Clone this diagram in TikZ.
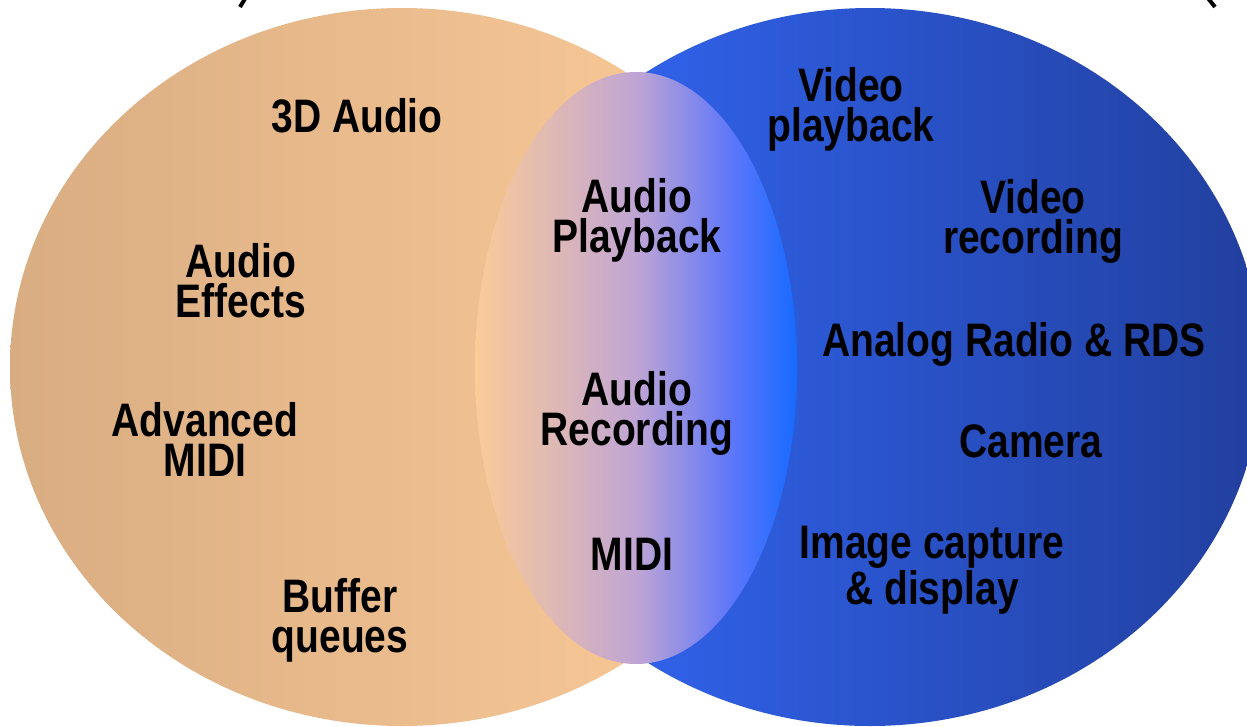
\documentclass[tikz,border=0pt]{standalone}
\usepackage{fontspec}
\setmainfont{Liberation Sans}[FakeStretch=0.83]

% fill colours
\definecolor{peachL}{RGB}{217,173,130}
\definecolor{peachR}{RGB}{253,204,153}
\definecolor{blueL}{RGB}{52,106,252}
\definecolor{blueR}{RGB}{33,63,158}
\definecolor{lensA}{RGB}{251,203,152}
\definecolor{lensB}{RGB}{192,165,212}
\definecolor{lensC}{RGB}{92,118,250}
\definecolor{lensD}{RGB}{22,106,255}

% horizontal gradients (the 25bp..75bp band spans the filled shape)
\pgfdeclarehorizontalshading{peachfade}{100bp}{%
  color(0bp)=(peachL); color(25bp)=(peachL); color(75bp)=(peachR); color(100bp)=(peachR)}
\pgfdeclarehorizontalshading{bluefade}{100bp}{%
  color(0bp)=(blueL); color(25bp)=(blueL); color(75bp)=(blueR); color(100bp)=(blueR)}
\pgfdeclarehorizontalshading{lensfade}{100bp}{%
  color(0bp)=(lensA); color(25bp)=(lensA); color(50bp)=(lensB);
  color(65bp)=(lensC); color(75bp)=(lensD); color(100bp)=(lensD)}

% labels sit on the baseline of their last line
\tikzset{
  lbl/.style={inner sep=0pt, align=center, anchor=base, text=black,
    font=\fontsize{47}{40}\selectfont\bfseries},
  blob/.style={draw=none},
  stub/.style={line width=4pt, black}
}

\begin{document}
\begin{tikzpicture}[x=1pt, y=-1pt]
\useasboundingbox (0,0) rectangle (1247,726);

% the two sets and their overlap
\path[blob, shading=peachfade] (402,367) ellipse [x radius=392, y radius=359];
\path[blob, shading=bluefade]  (870,367) ellipse [x radius=392, y radius=359];
\path[blob, shading=lensfade]  (636,368) ellipse [x radius=161, y radius=296];

% bits of the heading above, cut off by the edge
\draw[stub] (246,-3) -- (240,7);
\draw[stub] (1207,-3) -- (1215,7);

% left set
\node[lbl] (audio3d)  at (357,132) {3D Audio};
\node[lbl] (effects)  at (241,317) {Audio\\Effects};
\node[lbl] (advmidi)  at (205,476) {Advanced\\MIDI};
\node[lbl] (buffers)  at (340,652) {Buffer\\queues};

% shared
\node[lbl] (playback) at (637,252) {Audio\\Playback};
\node[lbl] (record)   at (637,445) {Audio\\Recording};
\node[lbl] (midi)     at (632,570) {MIDI};

% right set
\node[lbl] (vplay)    at (851,141) {Video\\playback};
\node[lbl] (vrec)     at (1033,253) {Video\\recording};
\node[lbl] (radio)    at (1014,356) {Analog Radio \& RDS};
\node[lbl] (camera)   at (1031,457) {Camera};
\node[lbl] (image)    at (932,604) {Image capture\\\& display};
\end{tikzpicture}
\end{document}
